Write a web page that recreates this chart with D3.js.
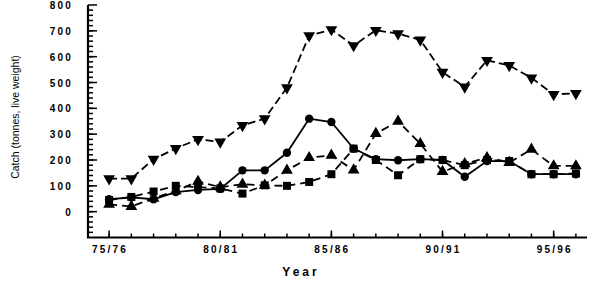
<!DOCTYPE html>
<html>
<head>
<meta charset="utf-8">
<script src="https://cdn.jsdelivr.net/npm/d3@7"></script>
<style>
    body { margin: 0; background: #fff; }
    svg { display: block; }
    text { fill: #000; }
    .tick-label { font-family: "Liberation Sans", Arial, sans-serif; font-weight: bold; font-size: 10px; letter-spacing: 2.2px; }
    .axis-title { font-family: "Liberation Sans", Arial, sans-serif; }
</style>
</head>
<body>
<svg id="chart" width="600" height="293"></svg>
<script>
// seasons 75/76 .. 96/97, keyed by first year
let years = [75, 76, 77, 78, 79, 80, 81, 82, 83, 84, 85, 86, 87, 88, 89, 90, 91, 92, 93, 94, 95, 96];
let year_ticks = [75, 80, 85, 90, 95];
let year_tick_labels = ["75/76", "80/81", "85/86", "90/91", "95/96"];
let catch_ticks = [0, 100, 200, 300, 400, 500, 600, 700, 800];
let catch_minor_ticks = d3.range(-80, 800, 20);

let catch_down_triangles = [128, 128, 203, 245, 280, 270, 334, 360, 480, 681, 705, 643, 702, 689, 665, 540, 483, 586, 566, 518, 454, 458];
let catch_circles = [48, 55, 48, 76, 84, 88, 160, 160, 228, 360, 347, 244, 203, 199, 203, 200, 135, 196, 196, 145, 145, 145];
let catch_up_triangles = [28, 20, 52, 80, 117, 95, 106, 102, 160, 209, 218, 161, 302, 350, 263, 155, 185, 209, 190, 241, 177, 177];
let catch_squares = [45, 57, 78, 100, 95, 90, 70, 102, 100, 115, 145, 244, 200, 141, 203, 200, 180, 200, 196, 145, 145, 148];


class CatchChart {

    constructor(html_selector_id) {
        this.canvas = d3.select(html_selector_id);
        this.x = d3.scaleLinear().domain([74.05, 96.5]).range([88, 587]);
        this.y = d3.scaleLinear().domain([-100, 800]).range([237.5, 5]);
    }

    add_ticks(values, horizontal, length) {
        let _this = this;
        let x0 = this.x.range()[0];
        let y0 = this.y.range()[0];
        this.canvas.append("g")
            .selectAll("rect")
            .data(values)
            .enter()
            .append("rect")
            .attr("x", function (d) {
                return horizontal ? x0 : _this.x(d) - 0.75;
            })
            .attr("y", function (d) {
                return horizontal ? _this.y(d) - 0.75 : y0 - length;
            })
            .attr("width", horizontal ? length : 1.5)
            .attr("height", horizontal ? 1.5 : length)
            .attr("fill", "#000");
    }

    draw_axes() {
        let _this = this;
        let x0 = this.x.range()[0];
        let y0 = this.y.range()[0];

        // ticks point into the plot
        this.add_ticks(catch_ticks, true, 9);
        this.add_ticks(catch_minor_ticks, true, 5);
        this.add_ticks(year_ticks, false, 7);
        this.add_ticks(years, false, 4);

        this.canvas.selectAll(".y-label")
            .data(catch_ticks)
            .enter()
            .append("text")
            .attr("class", "tick-label")
            .attr("x", 73)
            .attr("y", function (d) {
                return _this.y(d) + 4;
            })
            .style("text-anchor", "end")
            .text(function (d) {
                return d;
            });

        this.canvas.selectAll(".x-label")
            .data(year_ticks)
            .enter()
            .append("text")
            .attr("class", "tick-label")
            .attr("x", function (d) {
                return _this.x(d) + 1;
            })
            .attr("y", 253)
            .style("text-anchor", "middle")
            .text(function (d, i) {
                return year_tick_labels[i];
            });

        // axis lines drawn a bit heavier than the ticks
        this.canvas.append("path")
            .attr("d", "M" + x0 + "," + this.y.range()[1] +
                " L" + x0 + "," + y0 +
                " L" + this.x.range()[1] + "," + y0)
            .attr("fill", "none")
            .attr("stroke", "#000")
            .attr("stroke-width", 2.2);

        this.canvas.append("text")
            .attr("class", "axis-title")
            .attr("transform", "translate(19,117) rotate(-90)")
            .style("text-anchor", "middle")
            .style("font-size", "10.5px")
            .text("Catch (tonnes, live weight)");

        this.canvas.append("text")
            .attr("class", "axis-title")
            .attr("x", 301)
            .attr("y", 276)
            .style("text-anchor", "middle")
            .style("font-size", "12px")
            .style("font-weight", "bold")
            .style("letter-spacing", "3px")
            .text("Year");
    }

    add_series(values, symbol_type, symbol_size, rotation, dash) {
        let _this = this;
        let line = d3.line()
            .x(function (d, i) {
                return _this.x(years[i]);
            })
            .y(function (d) {
                return _this.y(d);
            });

        this.canvas.append("path")
            .datum(values)
            .attr("d", line)
            .attr("fill", "none")
            .attr("stroke", "#000")
            .attr("stroke-width", 1.8)
            .attr("stroke-dasharray", dash);

        let symbol = d3.symbol().type(symbol_type).size(symbol_size);
        this.canvas.append("g")
            .selectAll("path")
            .data(values)
            .enter()
            .append("path")
            .attr("d", symbol)
            .attr("fill", "#000")
            .attr("transform", function (d, i) {
                return "translate(" + _this.x(years[i]) + "," + _this.y(d) + ") rotate(" + rotation + ")";
            });
    }

    draw() {
        this.draw_axes();
        this.add_series(catch_squares, d3.symbolSquare, 64, 0, "8,5");
        this.add_series(catch_up_triangles, d3.symbolTriangle, 60, 0, "8,5");
        this.add_series(catch_circles, d3.symbolCircle, 55, 0, null);
        this.add_series(catch_down_triangles, d3.symbolTriangle, 60, 180, "8,4");
    }
}

let chart = new CatchChart("#chart");
chart.draw();
</script>
</body>
</html>
